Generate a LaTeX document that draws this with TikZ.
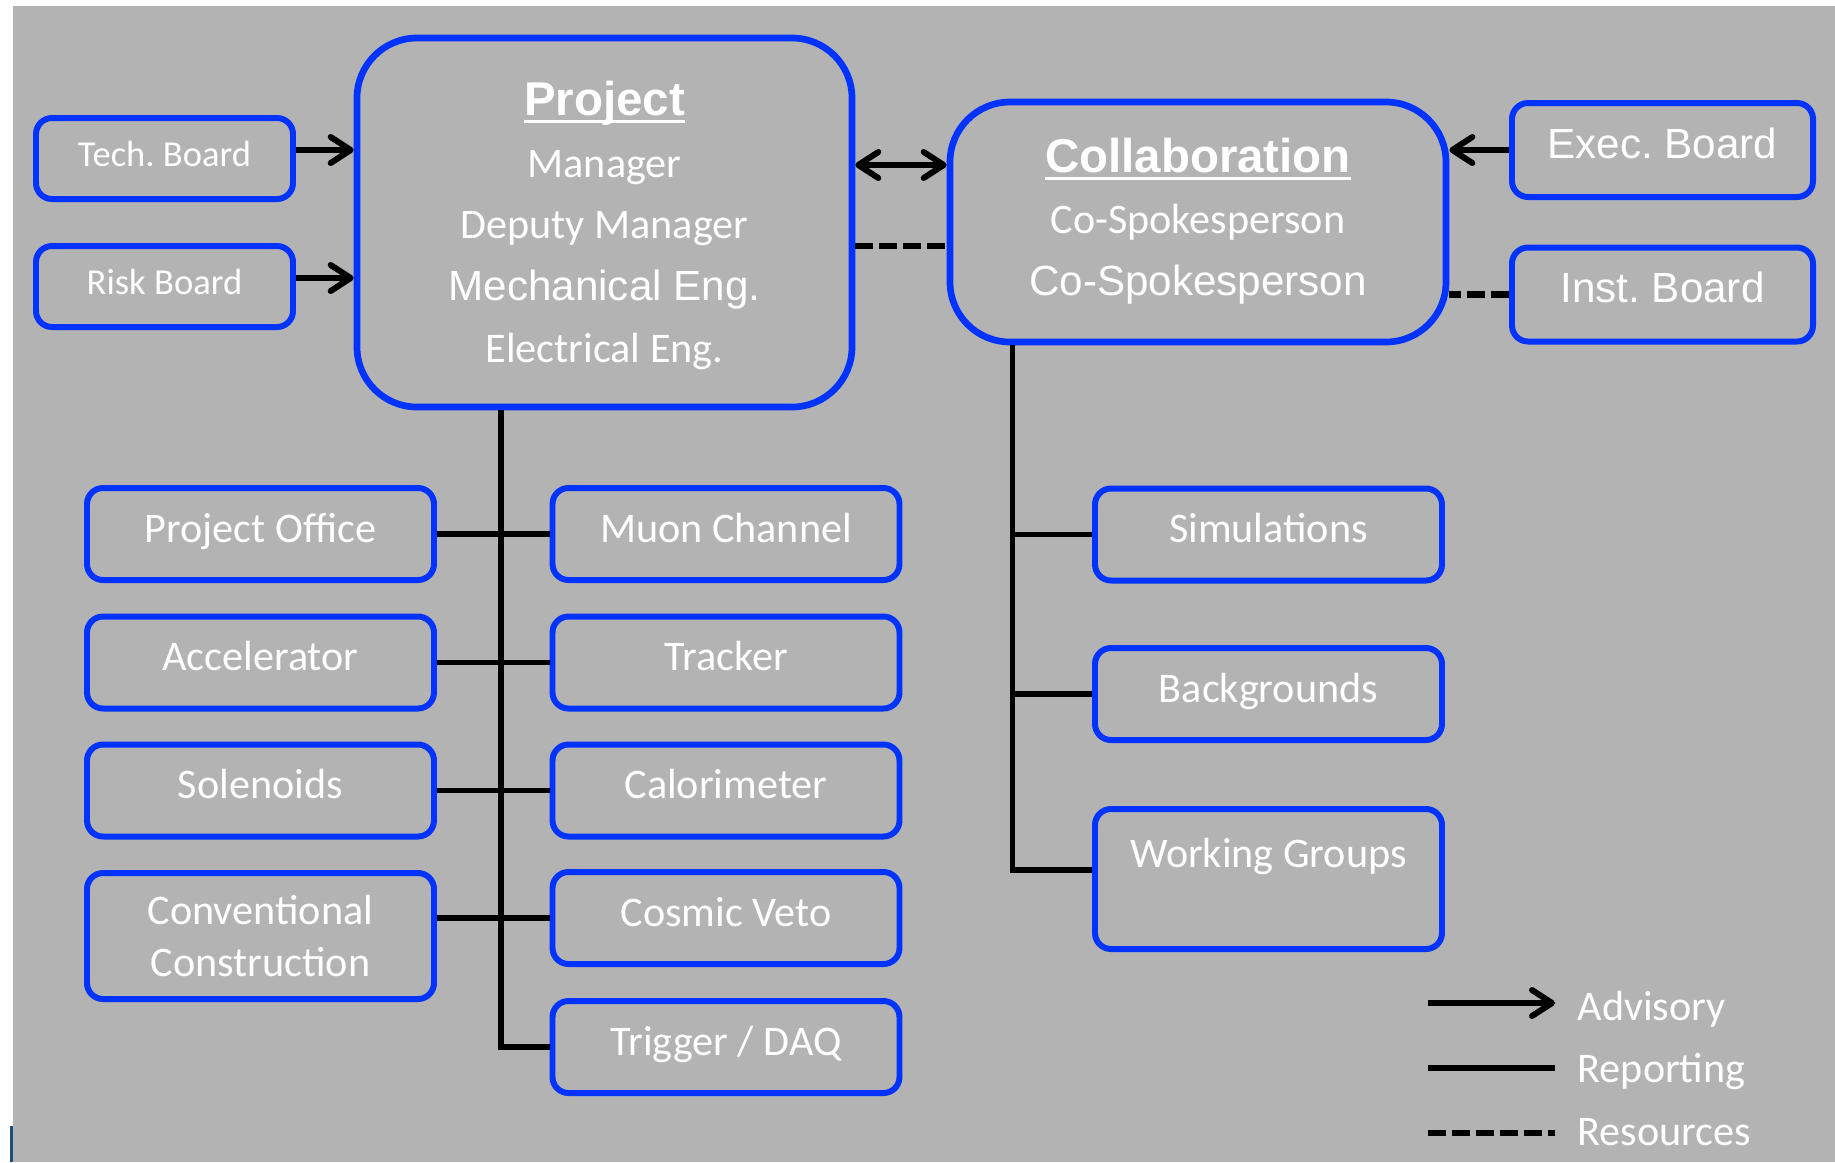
\documentclass[tikz,border=0pt]{standalone}
\usepackage{fontspec}
\setmainfont{Carlito}
\newfontfamily\arialfont{Liberation Sans}
\usepackage{tikz}
\usetikzlibrary{arrows.meta,positioning}
\frenchspacing

\definecolor{boxblue}{RGB}{0,51,255}
\definecolor{panelgray}{RGB}{179,179,179}
\definecolor{stripblue}{RGB}{31,78,121}

% underlined heading with a heavier rule
\newcommand{\titleline}[1]{\setbox0\hbox{#1}\rlap{\copy0}\rule[-2.4pt]{\wd0}{0.9pt}}
\newcommand{\boxfont}{\fontsize{12}{14.8}\selectfont}
\newcommand{\headfont}{\arialfont\bfseries\fontsize{13.5}{16}\selectfont}

\tikzset{
  unit/.style={draw=boxblue,line width=1.7pt,rounded corners=1.6mm,text=white,
    minimum width=3.47cm,minimum height=0.92cm,inner sep=0pt,
    text height=0.3cm,text depth=0.14cm,font=\boxfont},
  board/.style={unit,minimum width=2.57cm,minimum height=0.81cm,
    font=\fontsize{10.4}{12}\selectfont},
  bigbox/.style={draw=boxblue,line width=1.9pt,rounded corners=6mm,inner sep=0pt},
  lbl/.style={text=white,anchor=base,inner sep=0pt,font=\boxfont},
  adv/.style={line width=1.7pt,-{Straight Barb[length=2mm,width=2.6mm,round]}},
  advboth/.style={line width=1.7pt,
    {Straight Barb[length=2mm,width=2.6mm,round]}-{Straight Barb[length=2mm,width=2.6mm,round]}},
  rep/.style={line width=1.6pt},
  res/.style={line width=1.8pt,dash pattern=on 1.8mm off 0.6mm},
}

\begin{document}
\begin{tikzpicture}
  % page and grey panel
  \useasboundingbox (0,0) rectangle (18.35,-11.62);
  \fill[panelgray] (0.13,-0.06) rectangle (18.35,-11.62);
  \fill[stripblue] (0.10,-11.26) rectangle (0.13,-11.62);

  %% project
  \node[bigbox,minimum width=4.95cm,minimum height=3.69cm] (project) at (6.045,-2.225) {};
  \node[lbl,font=\headfont] (ptitle) at (6.045,-1.15) {\titleline{Project}};
  \node[lbl] (pm) at (6.045,-1.77) {Manager};
  \node[lbl] (dpm) at (6.045,-2.38) {Deputy Manager};
  \node[lbl,font=\arialfont\fontsize{12}{14}\selectfont] (me) at (6.045,-3.00) {Mechanical Eng.};
  \node[lbl] (ee) at (6.045,-3.62) {Electrical Eng.};

  %% collaboration
  \node[bigbox,minimum width=4.96cm,minimum height=2.40cm] (collab) at (11.98,-2.22) {};
  \node[lbl,font=\headfont] (ctitle) at (11.98,-1.72) {\titleline{Collaboration}};
  \node[lbl] (sp1) at (11.98,-2.33) {Co-Spokesperson};
  \node[lbl,font=\arialfont\fontsize{12}{14}\selectfont] (sp2) at (11.98,-2.95) {Co-Spokesperson};

  %% boards
  \node[board] (tech) at (1.645,-1.585) {Tech. Board};
  \node[board] (risk) at (1.645,-2.865) {Risk Board};
  \node[unit,minimum width=3.01cm,minimum height=0.94cm,
    font=\arialfont\fontsize{12}{14}\selectfont] (exec) at (16.625,-1.50) {Exec. Board};
  \node[unit,minimum width=3.01cm,minimum height=0.94cm,
    font=\arialfont\fontsize{12}{14}\selectfont] (inst) at (16.625,-2.945) {Inst. Board};

  %% project units
  \node[unit] (office) at (2.605,-5.34) {Project Office};
  \node[unit] (acc) at (2.605,-6.625) {Accelerator};
  \node[unit] (sol) at (2.605,-7.905) {Solenoids};
  \node[unit,minimum height=1.26cm,align=center,text height=,text depth=] (conv)
    at (2.605,-9.36) {Conventional\\Construction};
  \node[unit] (muon) at (7.26,-5.34) {Muon Channel};
  \node[unit] (tracker) at (7.26,-6.625) {Tracker};
  \node[unit] (calo) at (7.26,-7.905) {Calorimeter};
  \node[unit] (cosmic) at (7.26,-9.18) {Cosmic Veto};
  \node[unit] (trigger) at (7.26,-10.47) {Trigger / DAQ};

  %% collaboration units
  \node[unit] (sim) at (12.685,-5.345) {Simulations};
  \node[unit] (bkg) at (12.685,-6.94) {Backgrounds};
  \node[unit,minimum height=1.40cm,text depth=0.54cm] (wg) at (12.685,-8.79) {Working Groups};

  %% advisory and resources links
  \coordinate (tk) at ([yshift=0.85mm]tech.east);
  \coordinate (rk) at ([yshift=0.85mm]risk.east);
  \draw[adv] (tk) -- (tk -| project.west);
  \draw[adv] (rk) -- (rk -| project.west);
  \coordinate (pc) at ([yshift=5.75mm]project.east);
  \coordinate (pd) at ([yshift=-2.35mm]project.east);
  \draw[advboth] (pc) -- (pc -| collab.west);
  \draw[res] (pd) -- (pd -| collab.west);
  \draw[adv] (exec.west) -- (exec.west -| collab.east);
  \draw[res] (inst.west) -- (inst.west -| collab.east);

  %% reporting lines
  \coordinate (pbus) at ([xshift=-10.35mm]project.south);
  \draw[rep] (pbus) |- (trigger.west);
  \foreach \a/\b in {office/muon,acc/tracker,sol/calo}
    \draw[rep] (\a.east) -- (\b.west);
  \draw[rep] (cosmic.west) -- (cosmic.west -| conv.east);
  \coordinate (cbus) at ([xshift=-18.55mm]collab.south);
  \draw[rep] (cbus) |- ([yshift=0.9mm]wg.west);
  \draw[rep] (sim.west) -- (sim.west -| cbus);
  \draw[rep] (bkg.west) -- (bkg.west -| cbus);

  %% legend
  \coordinate (la1) at (14.28,-10.03);  \coordinate (la2) at (15.55,-10.03);
  \coordinate (lr1) at (14.28,-10.68);  \coordinate (lr2) at (15.55,-10.68);
  \coordinate (ls1) at (14.28,-11.33);  \coordinate (ls2) at (15.55,-11.33);
  \draw[adv] (la1) -- (la2);
  \draw[rep] (lr1) -- (lr2);
  \draw[res] (ls1) -- (ls2);
  \node[lbl,anchor=base west] (advtxt) at (15.77,-10.20) {Advisory};
  \node[lbl,anchor=base west] (reptxt) at (15.77,-10.82) {Reporting};
  \node[lbl,anchor=base west] (restxt) at (15.77,-11.45) {Resources};
\end{tikzpicture}
\end{document}
